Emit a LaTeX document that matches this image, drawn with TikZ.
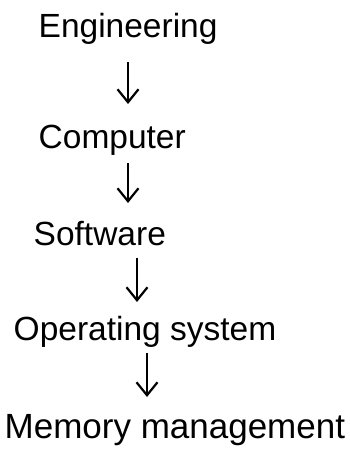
\documentclass[tikz,border=0pt]{standalone}
\usepackage{fontspec}
\setmainfont{Liberation Sans}
\usetikzlibrary{arrows.meta}
\begin{document}
\begin{tikzpicture}[x=1pt,y=1pt,
  label/.style={anchor=base west, inner sep=0pt, font=\fontsize{33.5}{40}\selectfont},
  bigger/.style={font=\fontsize{35}{42}\selectfont},
  down/.style={line width=2.2pt, -{Straight Barb[length=13pt,width=21pt,line width=2.2pt]}}]
\useasboundingbox (0,0) rectangle (349,-455);
% chain of topics, top to bottom
\node[label] (eng)  at (38.5,-37)  {Engineering};
\node[label] (comp) at (38.5,-148) {Computer};
\node[label] (soft) at (33.5,-245) {Software};
\node[label] (os)   at (13.5,-340) {Operating system};
\node[label,bigger] (mem) at (4.5,-438) {Memory management};
% arrow ends
\coordinate (a1s) at (128,-62);  \coordinate (a1e) at (128,-104);
\coordinate (a2s) at (128,-163); \coordinate (a2e) at (128,-203);
\coordinate (a3s) at (137,-258); \coordinate (a3e) at (137,-302);
\coordinate (a4s) at (147,-353); \coordinate (a4e) at (147,-397);
\draw[down] (a1s) -- (a1e);
\draw[down] (a2s) -- (a2e);
\draw[down] (a3s) -- (a3e);
\draw[down] (a4s) -- (a4e);
\end{tikzpicture}
\end{document}
